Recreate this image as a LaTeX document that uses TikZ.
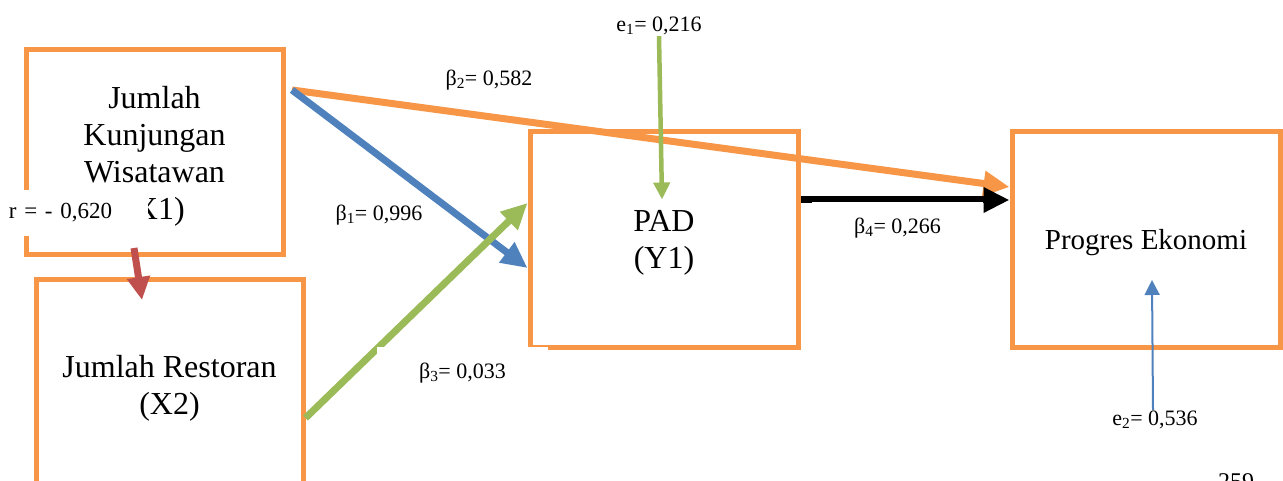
\documentclass[tikz,border=0pt]{standalone}
\usepackage{fontspec}
\setmainfont{Liberation Serif}
\usepackage{tikz}
\usetikzlibrary{arrows.meta,positioning,calc}

\definecolor{boxorange}{HTML}{F79646}
\definecolor{linkblue}{HTML}{4F81BD}
\definecolor{linkgreen}{HTML}{9BBB59}
\definecolor{linkred}{HTML}{C0504D}

\begin{document}
\begin{tikzpicture}[
        x=1pt, y=-1pt,
        box/.style={rectangle, draw=boxorange, line width=5pt, align=center, minimum width=268pt, minimum height=215pt, text depth=-4pt, font=\fontsize{32}{37}\selectfont},
        lbl/.style={inner sep=1pt, font=\fontsize{22}{26}\selectfont},
        note/.style={lbl, fill=white, minimum width=171pt, minimum height=52pt},
        link/.style={line width=7pt, -{Triangle[length=26pt,width=24pt]}},
        errlink/.style={-{Triangle[length=17pt,width=16pt]}}
    ]
    \useasboundingbox (0,0) rectangle (1283,481);

    % Independent variables
    \node[box, minimum width=257pt, minimum height=205pt] (x1) at (154.5,152.5) {Jumlah\\Kunjungan\\Wisatawan\\(X1)};
    \node[box, minimum width=267pt, minimum height=210pt, text depth=0pt] (x2) at (169.5,385) {Jumlah Restoran\\(X2)};

    % Dependent variables
    \node[box] (pad) at (664,239.5) {PAD\\(Y1)};
    \node[box, font=\fontsize{29}{33}\selectfont] (prog) at (1146,239.5) {Progres Ekonomi};

    % Error terms
    \node[lbl] (e1) at (659,26) {e\textsubscript{1}= 0,216};
    \node[lbl] (e2) at (1155,420) {e\textsubscript{2}= 0,536};
    \coordinate (src) at (292,90);

    % Paths
    \draw[link, boxorange] (src) -- ([yshift=52.5pt]prog.west);
    \draw[link, linkblue] (src) -- ([yshift=-28.5pt]pad.west);
    \draw[link, linkgreen] ([yshift=-33pt]x2.east) -- ([yshift=36.5pt]pad.west);
    \draw[link, black] ([yshift=39.5pt]pad.east) -- ([yshift=39.5pt]prog.west);
    \draw[link, linkred, -{Triangle[length=23pt,width=22pt]}] ([xshift=-20.5pt,yshift=9.5pt]x1.south) -- ([xshift=-27.5pt,yshift=-22.5pt]x2.north);
    \draw[errlink, linkgreen, line width=4.5pt] (e1.south) -- ([xshift=-2pt,yshift=-70pt]pad.north);
    \draw[errlink, linkblue, line width=2pt, -{Triangle[length=15pt,width=15pt]}] ([xshift=-2pt]e2.north) -- ([xshift=6pt,yshift=69.5pt]prog.south);

    % Coefficients
    \node[note, text width=138pt, align=left, minimum width=140pt, minimum height=46pt, font=\fontsize{23}{27}\selectfont] (r) at (78,213) {r = - 0,620};
    \node[lbl] (b1) at (379,215) {β\textsubscript{1}= 0,996};
    \node[lbl] (b2) at (489,80) {β\textsubscript{2}= 0,582};
    \node[note] (b3) at (462.5,373) {β\textsubscript{3}= 0,033};
    \node[note] (b4) at (897.5,228) {β\textsubscript{4}= 0,266};

    \node[lbl, font=\fontsize{24}{28}\selectfont] (page) at (1236,482) {259};

\end{tikzpicture}
\end{document}
